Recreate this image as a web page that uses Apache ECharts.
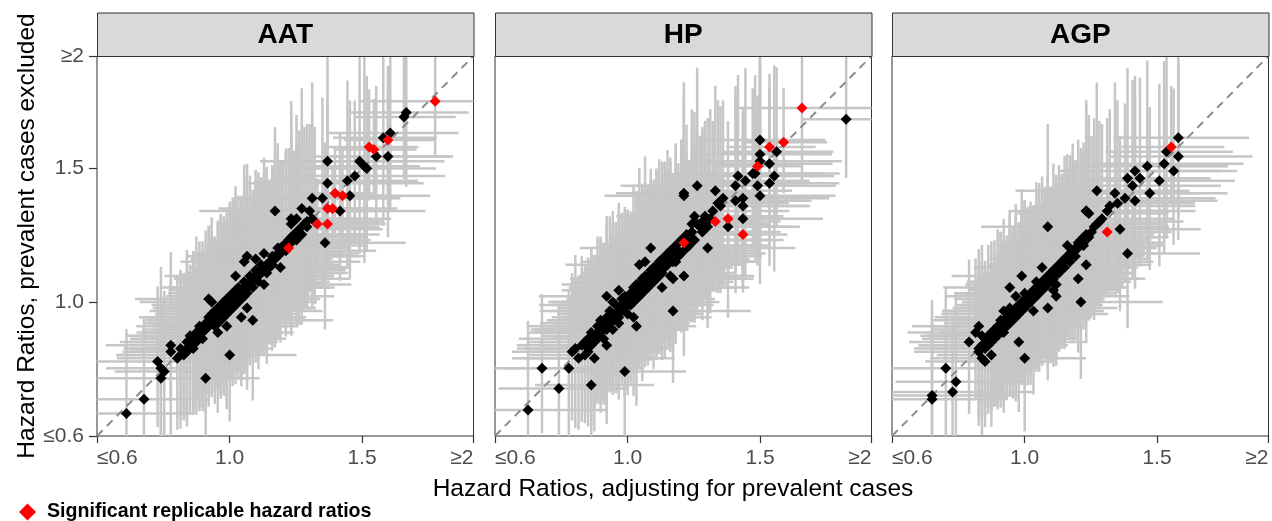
<!DOCTYPE html>
<html>
<head>
<meta charset="utf-8">
<script src="https://cdn.jsdelivr.net/npm/echarts@6/dist/echarts.min.js"></script>
<style>
html,body{margin:0;padding:0;background:#fff;}
#chart{width:1272px;height:521px;}
</style>
</head>
<body>
<div id="chart"></div>
<script>
// ---------- DATA ----------
const panelNames = ['AAT', 'HP', 'AGP'];
const tickValues = [0.6, 1.0, 1.5, 2];
const tickLabels = ['≤0.6', '1.0', '1.5', '≥2'];
const xAxisTitle = 'Hazard Ratios, adjusting for prevalent cases';
const yAxisTitle = 'Hazard Ratios, prevalent cases excluded';
const legendLabel = 'Significant replicable hazard ratios';

// rows: [HR adjusting, HR excluded, CI factor x, CI factor y]
const aatPoints = [
[0.68,0.66,1.30,1.38],[0.73,0.70,1.28,1.35],[0.77,0.81,1.33,1.30],[0.78,0.79,1.25,1.42],[0.78,0.76,1.36,1.28],
[0.79,0.78,1.22,1.33],[0.81,0.86,1.30,1.25],[0.81,0.84,1.18,1.40],[0.85,0.84,1.27,1.31],[0.86,0.85,1.21,1.36],
[0.92,0.76,1.20,1.33],[1.00,0.83,1.24,1.30],[0.93,1.01,1.32,1.22],[0.99,0.92,1.26,1.37],[1.04,0.95,1.19,1.29],
[1.08,0.94,1.28,1.35],[1.06,1.16,1.23,1.31],[1.16,1.33,1.29,1.26],[1.22,1.30,1.21,1.34],[1.12,1.06,1.30,1.28],
[1.05,1.14,1.25,1.33],
[1.69,1.74,1.17,1.22],[1.68,1.72,1.14,1.18],[1.62,1.65,1.19,1.24],[1.59,1.63,1.15,1.28],[1.56,1.55,1.22,1.20],
[1.61,1.55,1.18,1.26],[1.49,1.53,1.25,1.31],[1.52,1.50,1.20,1.27],[1.51,1.51,1.16,1.33],[1.36,1.53,1.23,1.35],
[1.47,1.47,1.27,1.22],[1.44,1.45,1.21,1.30],[1.36,1.44,1.30,1.25],[1.45,1.39,1.24,1.29],[1.30,1.38,1.28,1.36],
[1.34,1.38,1.22,1.31],[1.41,1.33,1.26,1.24],[1.26,1.34,1.31,1.38],[1.35,1.21,1.25,1.33],[1.22,1.28,1.27,1.40],
[0.83,0.82,1.27,1.33],[0.84,0.85,1.22,1.30],[0.85,0.83,1.30,1.26],[0.86,0.87,1.25,1.36],[0.87,0.86,1.19,1.31],
[0.87,0.89,1.28,1.27],[0.88,0.88,1.23,1.34],[0.88,0.85,1.31,1.29],[0.89,0.90,1.20,1.37],[0.89,0.87,1.26,1.24],
[0.90,0.89,1.29,1.32],[0.90,0.92,1.17,1.28],[0.91,0.90,1.24,1.35],[0.91,0.88,1.32,1.30],[0.92,0.93,1.21,1.26],
[0.92,0.91,1.27,1.38],[0.93,0.92,1.18,1.29],[0.93,0.95,1.30,1.33],[0.94,0.93,1.25,1.25],[0.94,0.96,1.22,1.36],
[0.95,0.94,1.28,1.31],[0.95,0.97,1.16,1.27],[0.95,0.92,1.26,1.34],[0.96,0.95,1.33,1.29],[0.96,0.98,1.20,1.32],
[0.97,0.96,1.24,1.37],[0.97,0.99,1.29,1.24],[0.97,0.94,1.18,1.30],[0.98,0.97,1.27,1.35],[0.98,1.00,1.23,1.28],
[0.99,0.98,1.31,1.33],[0.99,1.01,1.19,1.26],[0.99,0.96,1.25,1.39],[1.00,0.99,1.28,1.30],[1.00,1.02,1.21,1.34],
[1.00,0.97,1.34,1.27],[1.01,1.00,1.17,1.32],[1.01,1.03,1.26,1.29],[1.02,1.01,1.30,1.36],[1.02,0.99,1.22,1.25],
[1.02,1.04,1.27,1.33],[1.03,1.02,1.19,1.30],[1.03,1.05,1.32,1.27],[1.04,1.03,1.24,1.35],[1.04,1.01,1.28,1.31],
[1.05,1.04,1.20,1.28],[1.05,1.07,1.26,1.37],[1.06,1.05,1.31,1.26],[1.06,1.03,1.18,1.33],[1.07,1.06,1.25,1.29],
[1.07,1.09,1.29,1.35],[1.08,1.07,1.22,1.30],[1.08,1.05,1.27,1.27],[1.09,1.08,1.33,1.34],[1.09,1.11,1.21,1.31],
[1.10,1.09,1.26,1.28],[1.10,1.07,1.18,1.36],[1.11,1.10,1.30,1.32],[1.11,1.13,1.24,1.25],[1.12,1.11,1.28,1.33],
[1.13,1.12,1.20,1.30],[1.13,1.10,1.25,1.37],[1.14,1.14,1.31,1.27],[1.15,1.13,1.23,1.34],[1.15,1.16,1.27,1.29],
[1.16,1.15,1.19,1.32],[1.17,1.16,1.29,1.26],[1.17,1.19,1.24,1.35],[1.18,1.17,1.26,1.31],[1.19,1.20,1.21,1.28],
[1.20,1.18,1.30,1.33],[1.21,1.22,1.25,1.30],[1.22,1.21,1.22,1.36],[1.23,1.24,1.28,1.27],[1.24,1.22,1.24,1.32],
[1.25,1.26,1.27,1.29],[1.26,1.24,1.21,1.34],[1.27,1.28,1.26,1.31],[1.28,1.27,1.23,1.28],[1.30,1.30,1.25,1.33],
[1.31,1.29,1.20,1.30],[1.02,1.09,1.29,1.31],[1.06,0.98,1.24,1.35],[0.94,1.00,1.31,1.28],[1.12,1.17,1.27,1.32],
[1.18,1.12,1.22,1.29],[0.96,0.90,1.28,1.36],[1.09,1.15,1.25,1.30],[1.24,1.30,1.23,1.33],[1.29,1.33,1.26,1.27],
[0.84,0.83,1.29,1.34],[0.86,0.84,1.24,1.28],[0.88,0.87,1.33,1.31],[0.89,0.88,1.21,1.26],[0.90,0.90,1.27,1.35],
[0.91,0.91,1.19,1.30],[0.92,0.92,1.30,1.28],[0.93,0.93,1.23,1.37],[0.94,0.94,1.28,1.32],[0.95,0.95,1.20,1.29],
[0.96,0.96,1.26,1.33],[0.96,0.93,1.31,1.27],[0.97,0.97,1.22,1.36],[0.98,0.98,1.29,1.30],[0.98,0.95,1.24,1.34],
[0.99,0.99,1.18,1.28],[1.00,1.00,1.27,1.33],[1.01,1.01,1.23,1.37],[1.01,0.98,1.30,1.29],[1.02,1.02,1.25,1.31],
[1.03,1.03,1.21,1.35],[1.03,1.00,1.28,1.28],[1.04,1.04,1.26,1.32],[1.05,1.05,1.19,1.36],[1.05,1.02,1.32,1.30],
[1.06,1.06,1.24,1.27],[1.07,1.07,1.28,1.34],[1.08,1.08,1.22,1.31],[1.09,1.09,1.27,1.29],[1.10,1.10,1.20,1.35],
[1.11,1.11,1.25,1.32],[1.12,1.12,1.29,1.28],[1.13,1.13,1.23,1.33],[1.14,1.12,1.26,1.30],[1.16,1.16,1.24,1.36],
[1.18,1.19,1.22,1.29],[1.20,1.20,1.27,1.32],[1.22,1.23,1.25,1.30],[1.25,1.24,1.21,1.34],[1.28,1.29,1.24,1.31]
];
const aatSignificant = [
[1.82,1.79,1.22,1.15],[1.61,1.62,1.13,1.15],[1.53,1.59,1.14,1.16],[1.55,1.58,1.12,1.14],[1.39,1.40,1.11,1.13],
[1.42,1.39,1.12,1.14],[1.36,1.34,1.10,1.12],[1.38,1.34,1.11,1.13],[1.32,1.28,1.10,1.14],[1.36,1.28,1.12,1.15],
[1.21,1.19,1.09,1.11]
];

const hpPoints = [
[0.69,0.67,1.35,1.40],[0.73,0.79,1.33,1.30],[0.78,0.73,1.28,1.36],[0.81,0.79,1.30,1.32],[0.88,0.74,1.24,1.38],
[0.99,0.78,1.22,1.34],[0.93,1.02,1.29,1.27],[1.03,0.92,1.21,1.35],[1.16,0.97,1.26,1.30],[1.08,1.19,1.28,1.26],
[1.20,1.40,1.25,1.29],[1.04,1.13,1.30,1.33],[0.82,0.84,1.27,1.31],[0.83,0.85,1.22,1.37],[0.87,0.84,1.25,1.29],
[0.89,0.82,1.31,1.34],[0.93,0.86,1.20,1.36],[1.16,1.08,1.27,1.28],[1.20,1.09,1.23,1.32],
[1.88,1.71,1.12,1.17],[1.50,1.62,1.19,1.27],[1.57,1.57,1.16,1.24],[1.50,1.56,1.21,1.30],[1.54,1.52,1.18,1.26],
[1.50,1.53,1.24,1.29],[1.56,1.47,1.17,1.33],[1.54,1.44,1.20,1.28],[1.50,1.39,1.22,1.31],[1.49,1.43,1.23,1.27],
[1.41,1.47,1.26,1.30],[1.44,1.45,1.19,1.34],[1.47,1.48,1.21,1.25],[1.48,1.48,1.25,1.29],[1.25,1.43,1.28,1.36],
[1.32,1.41,1.24,1.32],[1.20,1.39,1.30,1.35],[1.40,1.43,1.22,1.30],[1.43,1.38,1.26,1.28],[1.40,1.37,1.23,1.33],
[1.34,1.35,1.27,1.31],[1.43,1.35,1.20,1.29],[1.43,1.30,1.24,1.26],[1.37,1.27,1.22,1.34],[1.29,1.19,1.28,1.30],
[1.23,1.28,1.25,1.37],[1.24,1.31,1.29,1.33],
[0.85,0.86,1.29,1.35],[0.86,0.83,1.24,1.31],[0.87,0.88,1.31,1.28],[0.88,0.86,1.20,1.37],[0.88,0.90,1.27,1.32],
[0.89,0.87,1.23,1.29],[0.90,0.92,1.30,1.34],[0.90,0.88,1.18,1.27],[0.91,0.90,1.26,1.36],[0.91,0.94,1.22,1.30],
[0.92,0.91,1.32,1.33],[0.92,0.88,1.25,1.26],[0.93,0.95,1.19,1.38],[0.93,0.92,1.28,1.31],[0.94,0.93,1.23,1.29],
[0.94,0.97,1.30,1.35],[0.95,0.94,1.21,1.32],[0.95,0.91,1.27,1.27],[0.96,0.96,1.24,1.34],[0.96,0.99,1.33,1.30],
[0.97,0.95,1.18,1.36],[0.97,0.93,1.26,1.28],[0.98,0.99,1.29,1.33],[0.98,1.01,1.22,1.31],[0.99,0.97,1.25,1.37],
[0.99,1.00,1.31,1.26],[1.00,1.01,1.20,1.32],[1.00,0.96,1.27,1.35],[1.01,1.03,1.23,1.29],[1.01,0.99,1.30,1.33],
[1.02,1.02,1.19,1.30],[1.02,1.05,1.26,1.36],[1.03,1.01,1.28,1.27],[1.03,1.04,1.22,1.34],[1.04,1.06,1.32,1.31],
[1.04,1.02,1.24,1.28],[1.05,1.05,1.21,1.37],[1.05,1.08,1.29,1.32],[1.06,1.04,1.25,1.29],[1.06,1.07,1.18,1.35],
[1.07,1.09,1.27,1.30],[1.07,1.05,1.31,1.26],[1.08,1.08,1.23,1.33],[1.08,1.11,1.26,1.31],[1.09,1.07,1.20,1.36],
[1.09,1.10,1.28,1.28],[1.10,1.12,1.24,1.34],[1.10,1.08,1.30,1.30],[1.11,1.11,1.22,1.27],[1.11,1.14,1.27,1.35],
[1.12,1.10,1.19,1.32],[1.12,1.13,1.25,1.29],[1.13,1.15,1.29,1.33],[1.13,1.12,1.23,1.36],[1.14,1.13,1.26,1.30],
[1.14,1.17,1.21,1.28],[1.15,1.14,1.28,1.34],[1.15,1.18,1.24,1.31],[1.16,1.16,1.30,1.27],[1.17,1.19,1.22,1.35],
[1.17,1.14,1.27,1.32],[1.18,1.18,1.25,1.29],[1.19,1.22,1.20,1.33],[1.19,1.17,1.28,1.30],[1.21,1.24,1.24,1.36],
[1.22,1.20,1.26,1.28],[1.23,1.25,1.22,1.34],[1.24,1.22,1.29,1.31],[1.26,1.27,1.23,1.29],[1.27,1.25,1.25,1.33],
[1.28,1.31,1.21,1.30],[1.29,1.27,1.27,1.35],[1.31,1.33,1.24,1.28],[1.33,1.36,1.22,1.32],[1.35,1.38,1.26,1.30],
[1.02,0.95,1.28,1.34],[0.97,1.04,1.23,1.31],[1.12,1.05,1.30,1.29],[1.06,1.14,1.25,1.36],[0.95,1.00,1.27,1.33],
[1.15,1.09,1.21,1.30],
[0.84,0.82,1.30,1.33],[0.86,0.87,1.25,1.29],[0.87,0.85,1.32,1.36],[0.89,0.89,1.22,1.31],[0.90,0.90,1.28,1.27],
[0.91,0.92,1.20,1.34],[0.92,0.93,1.27,1.30],[0.93,0.91,1.31,1.35],[0.94,0.95,1.24,1.28],[0.95,0.96,1.21,1.33],
[0.96,0.94,1.29,1.30],[0.97,0.98,1.25,1.36],[0.98,0.97,1.30,1.29],[0.99,1.02,1.22,1.32],[1.00,0.99,1.27,1.35],
[1.01,1.01,1.24,1.30],[1.02,1.00,1.31,1.27],[1.03,1.06,1.20,1.33],[1.04,1.04,1.28,1.31],[1.05,1.03,1.23,1.37],
[1.06,1.09,1.26,1.29],[1.07,1.07,1.30,1.34],[1.08,1.06,1.21,1.30],[1.09,1.12,1.27,1.28],[1.10,1.10,1.24,1.35],
[1.11,1.09,1.29,1.31],[1.12,1.15,1.22,1.33],[1.13,1.13,1.26,1.29],[1.14,1.16,1.23,1.36],[1.16,1.14,1.28,1.30],
[1.17,1.20,1.25,1.32],[1.18,1.16,1.21,1.28],[1.20,1.22,1.27,1.34],[1.21,1.19,1.24,1.31],[1.23,1.22,1.26,1.29],
[1.25,1.28,1.22,1.33],[1.27,1.29,1.25,1.30],[1.30,1.30,1.23,1.35]
];
const hpSignificant = [
[1.68,1.76,1.20,1.22],[1.54,1.59,1.13,1.16],[1.60,1.61,1.12,1.15],[1.49,1.51,1.13,1.16],[1.32,1.29,1.11,1.14],
[1.37,1.30,1.12,1.15],[1.43,1.24,1.13,1.16],[1.20,1.21,1.09,1.11]
];

const agpPoints = [
[0.71,0.71,1.38,1.42],[0.71,0.70,1.32,1.36],[0.75,0.79,1.30,1.33],[0.78,0.75,1.28,1.38],[0.77,0.72,1.34,1.30],
[0.82,0.87,1.27,1.32],[0.85,0.92,1.30,1.29],[0.86,0.89,1.24,1.35],[0.85,0.85,1.29,1.31],[0.86,0.82,1.22,1.36],
[0.87,0.81,1.26,1.30],[0.89,0.83,1.23,1.33],[0.84,0.90,1.31,1.28],[1.00,0.82,1.22,1.34],[0.98,0.87,1.25,1.31],
[0.95,1.05,1.28,1.27],[1.08,1.27,1.26,1.33],[1.08,0.98,1.24,1.30],[1.19,1.08,1.22,1.29],[1.20,1.00,1.27,1.32],
[1.11,1.02,1.25,1.28],[1.10,1.04,1.23,1.31],[1.22,1.13,1.21,1.30],[1.21,1.20,1.26,1.27],[1.22,1.33,1.24,1.33],
[0.99,1.09,1.29,1.30],
[1.59,1.63,1.20,1.25],[1.54,1.57,1.19,1.28],[1.59,1.55,1.21,1.27],[1.53,1.52,1.23,1.30],[1.57,1.49,1.18,1.24],
[1.51,1.45,1.22,1.29],[1.46,1.51,1.24,1.31],[1.41,1.49,1.26,1.28],[1.38,1.46,1.25,1.33],[1.43,1.46,1.21,1.30],
[1.40,1.43,1.27,1.32],[1.47,1.40,1.23,1.26],[1.41,1.37,1.25,1.31],[1.37,1.38,1.28,1.29],[1.33,1.40,1.26,1.34],
[1.26,1.41,1.30,1.33],[1.31,1.35,1.27,1.30],[1.34,1.36,1.24,1.32],[1.30,1.33,1.28,1.29],[1.22,1.33,1.29,1.35],
[1.23,1.32,1.26,1.31],[1.35,1.26,1.25,1.30],[1.38,1.17,1.22,1.28],
[0.86,0.86,1.28,1.33],[0.87,0.85,1.23,1.30],[0.88,0.89,1.30,1.35],[0.89,0.87,1.19,1.28],[0.90,0.91,1.26,1.34],
[0.90,0.88,1.32,1.29],[0.91,0.92,1.22,1.37],[0.91,0.89,1.27,1.31],[0.92,0.90,1.24,1.27],[0.92,0.94,1.29,1.33],
[0.93,0.93,1.18,1.30],[0.93,0.90,1.25,1.36],[0.94,0.95,1.31,1.28],[0.94,0.92,1.21,1.32],[0.95,0.96,1.27,1.35],
[0.95,0.93,1.23,1.26],[0.96,0.97,1.30,1.31],[0.96,0.94,1.20,1.34],[0.97,0.98,1.26,1.29],[0.97,0.95,1.28,1.37],
[0.98,0.99,1.22,1.30],[0.98,0.96,1.33,1.27],[0.99,1.00,1.24,1.33],[0.99,0.97,1.19,1.31],[1.00,1.01,1.29,1.36],
[1.00,0.98,1.25,1.28],[1.01,1.02,1.21,1.32],[1.01,0.99,1.27,1.34],[1.02,1.03,1.31,1.29],[1.02,1.00,1.23,1.35],
[1.03,1.04,1.26,1.30],[1.03,1.01,1.20,1.27],[1.04,1.05,1.28,1.33],[1.04,1.02,1.24,1.31],[1.05,1.06,1.30,1.36],
[1.05,1.03,1.22,1.28],[1.06,1.07,1.27,1.34],[1.06,1.04,1.18,1.30],[1.07,1.08,1.25,1.32],[1.07,1.05,1.29,1.27],
[1.08,1.09,1.23,1.35],[1.08,1.06,1.26,1.31],[1.09,1.10,1.21,1.29],[1.09,1.07,1.28,1.33],[1.10,1.11,1.24,1.37],
[1.10,1.08,1.30,1.30],[1.11,1.12,1.22,1.28],[1.12,1.13,1.27,1.34],[1.12,1.10,1.25,1.31],[1.13,1.14,1.20,1.29],
[1.14,1.15,1.29,1.35],[1.14,1.12,1.23,1.32],[1.15,1.16,1.26,1.28],[1.16,1.17,1.22,1.33],[1.16,1.14,1.28,1.30],
[1.17,1.18,1.24,1.36],[1.18,1.19,1.27,1.29],[1.18,1.16,1.21,1.32],[1.19,1.21,1.25,1.34],[1.20,1.22,1.23,1.30],
[1.21,1.23,1.28,1.27],[1.22,1.24,1.22,1.33],[1.24,1.25,1.26,1.31],[1.25,1.27,1.24,1.35],[1.26,1.28,1.21,1.29],
[1.27,1.29,1.27,1.32],[1.28,1.30,1.23,1.30],[0.97,1.02,1.29,1.33],[1.03,0.97,1.25,1.36],[1.11,1.06,1.22,1.29],
[1.06,1.12,1.27,1.31],[0.93,0.97,1.24,1.34],[1.15,1.20,1.26,1.30],
[0.85,0.84,1.29,1.34],[0.87,0.88,1.24,1.30],[0.88,0.86,1.31,1.27],[0.89,0.90,1.21,1.35],[0.90,0.89,1.27,1.31],
[0.91,0.90,1.23,1.29],[0.92,0.92,1.30,1.36],[0.93,0.94,1.20,1.30],[0.94,0.93,1.26,1.33],[0.95,0.95,1.28,1.28],
[0.95,0.98,1.22,1.34],[0.96,0.95,1.25,1.31],[0.97,0.97,1.31,1.35],[0.98,0.97,1.19,1.29],[0.99,0.99,1.27,1.32],
[1.00,1.00,1.24,1.37],[1.00,1.03,1.29,1.30],[1.01,1.00,1.22,1.28],[1.02,1.02,1.26,1.34],[1.03,1.03,1.30,1.31],
[1.04,1.04,1.21,1.29],[1.04,1.07,1.28,1.35],[1.05,1.05,1.25,1.30],[1.06,1.06,1.23,1.33],[1.07,1.07,1.29,1.28],
[1.08,1.08,1.20,1.36],[1.09,1.09,1.26,1.31],[1.10,1.10,1.28,1.29],[1.11,1.10,1.23,1.34],[1.12,1.12,1.27,1.30],
[1.13,1.12,1.25,1.32],[1.15,1.15,1.21,1.29],[1.17,1.17,1.28,1.35],[1.19,1.19,1.24,1.30],[1.21,1.21,1.26,1.33],
[1.23,1.23,1.22,1.31]
];
const agpSignificant = [
[1.56,1.59,1.15,1.17],[1.30,1.25,1.11,1.13]
];

// ---------- LAYOUT / STYLE ----------
const panelData = [[aatPoints, aatSignificant], [hpPoints, hpSignificant], [agpPoints, agpSignificant]];
const gridLefts = [97, 495, 892];
const gridWidth = 376.5;
const gridTop = 56;
const gridHeight = 380;
const stripTop = 12.5;
const stripHeight = 43.5;
const FONT = '"Liberation Sans", Arial, Helvetica, sans-serif';

// square-root scale (as in the reference axes)
const lo = tickValues[0], hi = tickValues[tickValues.length - 1];
const T = v => Math.sqrt(Math.min(hi, Math.max(lo, v)));
const tickPos = tickValues.map(v => Math.sqrt(v));
const labelFor = v => {
  let best = 0, d = Infinity;
  tickPos.forEach((p, i) => { const dd = Math.abs(p - v); if (dd < d) { d = dd; best = i; } });
  return tickLabels[best];
};

const grids = [], xAxes = [], yAxes = [], series = [], graphics = [];

panelNames.forEach((name, i) => {
  grids.push({ left: gridLefts[i], top: gridTop, width: gridWidth, height: gridHeight,
    show: true, borderColor: '#333333', borderWidth: 1, backgroundColor: '#ffffff', containLabel: false });
  xAxes.push({
    type: 'value', gridIndex: i, min: T(lo), max: T(hi),
    axisLine: { show: false },
    splitLine: { show: false },
    axisTick: { show: true, length: 7, lineStyle: { color: '#333333', width: 1.2 }, customValues: tickPos },
    axisLabel: { show: true, customValues: tickPos, formatter: v => labelFor(v), color: '#4d4d4d',
      fontSize: 21, fontFamily: FONT, margin: 12, alignMinLabel: 'left', alignMaxLabel: 'right' }
  });
  yAxes.push({
    type: 'value', gridIndex: i, min: T(lo), max: T(hi),
    axisLine: { show: false },
    splitLine: { show: false },
    axisTick: { show: i === 0, length: 8, lineStyle: { color: '#333333', width: 1.2 }, customValues: tickPos },
    axisLabel: { show: i === 0, customValues: tickPos, formatter: v => labelFor(v), color: '#4d4d4d',
      fontSize: 21, fontFamily: FONT, margin: 13 }
  });

  const [pts, sig] = panelData[i];
  const allRows = pts.concat(sig);
  series.push({
    type: 'custom', xAxisIndex: i, yAxisIndex: i, silent: true, animation: false, z: 1, clip: true,
    data: allRows.map(r => [T(r[0]), T(r[1]), T(r[0] / r[2]), T(r[0] * r[2]), T(r[1] / r[3]), T(r[1] * r[3])]),
    encode: { x: [0, 2, 3], y: [1, 4, 5] },
    renderItem: (params, api) => {
      const cx = api.value(0), cy = api.value(1);
      const a = api.coord([api.value(2), cy]);
      const b = api.coord([api.value(3), cy]);
      const c = api.coord([cx, api.value(4)]);
      const d = api.coord([cx, api.value(5)]);
      const st = { stroke: '#c6c6c6', lineWidth: 2.5 };
      return { type: 'group', children: [
        { type: 'line', shape: { x1: a[0], y1: a[1], x2: b[0], y2: b[1] }, style: st },
        { type: 'line', shape: { x1: c[0], y1: c[1], x2: d[0], y2: d[1] }, style: st }
      ] };
    }
  });
  series.push({
    type: 'line', xAxisIndex: i, yAxisIndex: i, silent: true, animation: false, z: 2,
    symbol: 'none', data: [[T(lo), T(lo)], [T(hi), T(hi)]],
    lineStyle: { color: '#8c8c8c', width: 2, type: [8, 6] }
  });
  series.push({
    type: 'scatter', xAxisIndex: i, yAxisIndex: i, animation: false, z: 3,
    symbol: 'diamond', symbolSize: 11,
    itemStyle: { color: '#000000', opacity: 1 },
    data: pts.map(r => [T(r[0]), T(r[1])])
  });
  series.push({
    name: legendLabel,
    type: 'scatter', xAxisIndex: i, yAxisIndex: i, animation: false, z: 4,
    symbol: 'diamond', symbolSize: 11,
    itemStyle: { color: '#ff0000', opacity: 1 },
    data: sig.map(r => [T(r[0]), T(r[1])])
  });

  // facet strip
  graphics.push({
    type: 'rect', left: gridLefts[i], top: stripTop, z: 10,
    shape: { x: 0, y: 0, width: gridWidth, height: stripHeight },
    style: { fill: '#d9d9d9', stroke: '#333333', lineWidth: 1 }
  });
  graphics.push({
    type: 'text', z: 11,
    x: gridLefts[i] + gridWidth / 2, y: stripTop + stripHeight / 2 + 1,
    style: { text: name, fill: '#000000', font: 'bold 28px ' + FONT, textAlign: 'center', textVerticalAlign: 'middle' }
  });
});

graphics.push({
  type: 'text', z: 11, x: 673, y: 489,
  style: { text: xAxisTitle, fill: '#000000', font: '24.5px ' + FONT, textAlign: 'center', textVerticalAlign: 'middle' }
});
graphics.push({
  type: 'text', z: 11, x: 27, y: 236, rotation: Math.PI / 2,
  style: { text: yAxisTitle, fill: '#000000', font: '24.5px ' + FONT, textAlign: 'center', textVerticalAlign: 'middle' }
});

const chart = echarts.init(document.getElementById('chart'), null, { renderer: 'canvas' });
chart.setOption({
  animation: false,
  backgroundColor: '#ffffff',
  grid: grids,
  xAxis: xAxes,
  yAxis: yAxes,
  legend: {
    data: [{ name: legendLabel, icon: 'diamond', itemStyle: { color: '#ff0000', opacity: 1 } }],
    left: 19, top: 502, padding: 0, itemWidth: 17, itemHeight: 17, itemGap: 6,
    textStyle: { fontFamily: FONT, fontWeight: 'bold', fontSize: 19.6, color: '#000000', padding: [0, 0, 0, 6] },
    selectedMode: false
  },
  graphic: graphics,
  series: series
});
</script>
</body>
</html>
